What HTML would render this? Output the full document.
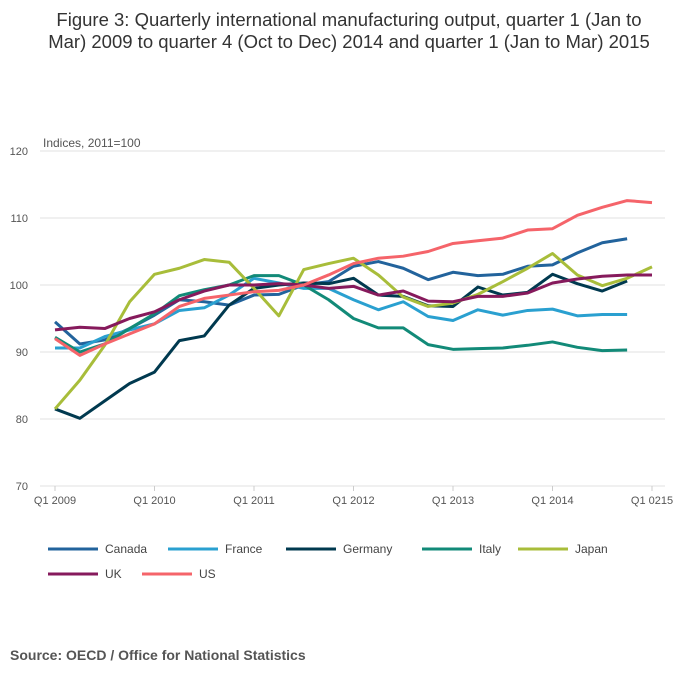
<!DOCTYPE html>
<html><head><meta charset="utf-8"><style>
body{margin:0;background:#fff;font-family:"Liberation Sans",sans-serif;}
svg text{font-family:"Liberation Sans",sans-serif;}
</style></head><body>
<svg width="700" height="682" id="c">
<text x="349" y="26" text-anchor="middle" font-size="18.5" fill="#333">Figure 3: Quarterly international manufacturing output, quarter 1 (Jan to</text>
<text x="349" y="48" text-anchor="middle" font-size="18.5" fill="#333">Mar) 2009 to quarter 4 (Oct to Dec) 2014 and quarter 1 (Jan to Mar) 2015</text>
<text x="43" y="147" font-size="12" fill="#555">Indices, 2011=100</text>
<g id="grid"></g><g id="lines"></g><g id="legend"></g>
<text x="10" y="660" font-size="14" font-weight="bold" fill="#555">Source: OECD / Office for National Statistics</text>
</svg>
<script>
const yTicks=[70,80,90,100,110,120];
const xLabels=["Q1 2009","Q1 2010","Q1 2011","Q1 2012","Q1 2013","Q1 2014","Q1 0215"];
const xLabelIdx=[0,4,8,12,16,20,24];
const names=["Canada","France","Germany","Italy","Japan","UK","US"];
const colors=["#22639c","#2aa0d0","#00394f","#128a78","#a8bd3a","#861a5c","#f5646a"];
const canada=[94.5,91.2,91.8,93.5,95.5,97.8,97.5,97.0,98.5,98.6,100.0,100.5,102.8,103.5,102.5,100.8,101.9,101.4,101.6,102.8,103.0,104.8,106.3,106.9];
const france=[90.6,90.6,92.3,93.3,94.2,96.2,96.6,98.5,101.0,100.3,99.5,99.5,97.8,96.3,97.5,95.3,94.7,96.3,95.5,96.2,96.4,95.4,95.6,95.6];
const germany=[81.5,80.1,82.7,85.3,87.0,91.7,92.4,97.0,99.5,100.0,100.3,100.2,101.0,98.5,98.3,96.9,96.8,99.7,98.5,98.9,101.6,100.2,99.1,100.6];
const italy=[92.2,90.0,91.2,93.5,95.7,98.4,99.3,100.0,101.4,101.4,100.0,97.8,95.0,93.6,93.6,91.1,90.4,90.5,90.6,91.0,91.5,90.7,90.2,90.3];
const japan=[81.5,85.8,91.0,97.5,101.6,102.5,103.8,103.4,99.5,95.4,102.3,103.2,104.0,101.5,98.2,96.8,97.3,98.6,100.5,102.5,104.7,101.5,99.9,101.0,102.7];
const uk=[93.3,93.7,93.5,95.0,96.0,97.8,99.1,100.0,100.0,100.2,100.0,99.5,99.8,98.5,99.1,97.6,97.5,98.3,98.3,98.8,100.3,100.9,101.3,101.5,101.5];
const us=[92.0,89.5,91.2,92.7,94.2,96.8,98.0,98.5,99.0,99.2,100.0,101.5,103.2,104.0,104.3,105.0,106.2,106.6,107.0,108.2,108.4,110.4,111.6,112.6,112.3];
const series=[canada,france,germany,italy,japan,uk,us];
const NS="http://www.w3.org/2000/svg";
const X=i=>55+i*24.875, Y=v=>486-(v-70)*6.7;
function mk(tag,attrs,parent){const e=document.createElementNS(NS,tag);for(const k in attrs)e.setAttribute(k,attrs[k]);parent.appendChild(e);return e;}
const grid=document.getElementById('grid');
yTicks.forEach(t=>{
 const l=mk('line',{x1:40,x2:665,y1:Y(t),y2:Y(t),stroke:'#e0e0e0','stroke-width':1},grid);
 
 
 const tx=mk('text',{x:28,y:Y(t)+4,'text-anchor':'end','font-size':11,fill:'#555'},grid);
 tx.textContent=t;
 
 
});
xLabels.forEach((s,k)=>{
 const x=X(xLabelIdx[k]);
 const tk=mk('line',{x1:x,x2:x,y1:486,y2:491,stroke:'#ccc'},grid);
 
 
 const tx=mk('text',{x:x,y:504,'text-anchor':'middle','font-size':11,fill:'#555'},grid);
 tx.textContent=s;
 
 
});
const lines=document.getElementById('lines');
series.forEach((d,s)=>{
 const p=mk('polyline',{points:d.map((v,i)=>X(i)+','+Y(v)).join(' '),fill:'none',stroke:colors[s],'stroke-width':3,'stroke-linejoin':'round'},lines);
 
 
});
const lg=document.getElementById('legend');
const lx=[48,168,286,422,518,48,142], ly=[549,549,549,549,549,574,574];
names.forEach((n,s)=>{
 const g=mk('g',{},lg);
 
 
 mk('line',{x1:lx[s],x2:lx[s]+50,y1:ly[s],y2:ly[s],stroke:colors[s],'stroke-width':3},g);
 const t=mk('text',{x:lx[s]+57,y:ly[s]+4,'font-size':12,fill:'#444'},g);
 t.textContent=n;
});
</script>
</body></html>
